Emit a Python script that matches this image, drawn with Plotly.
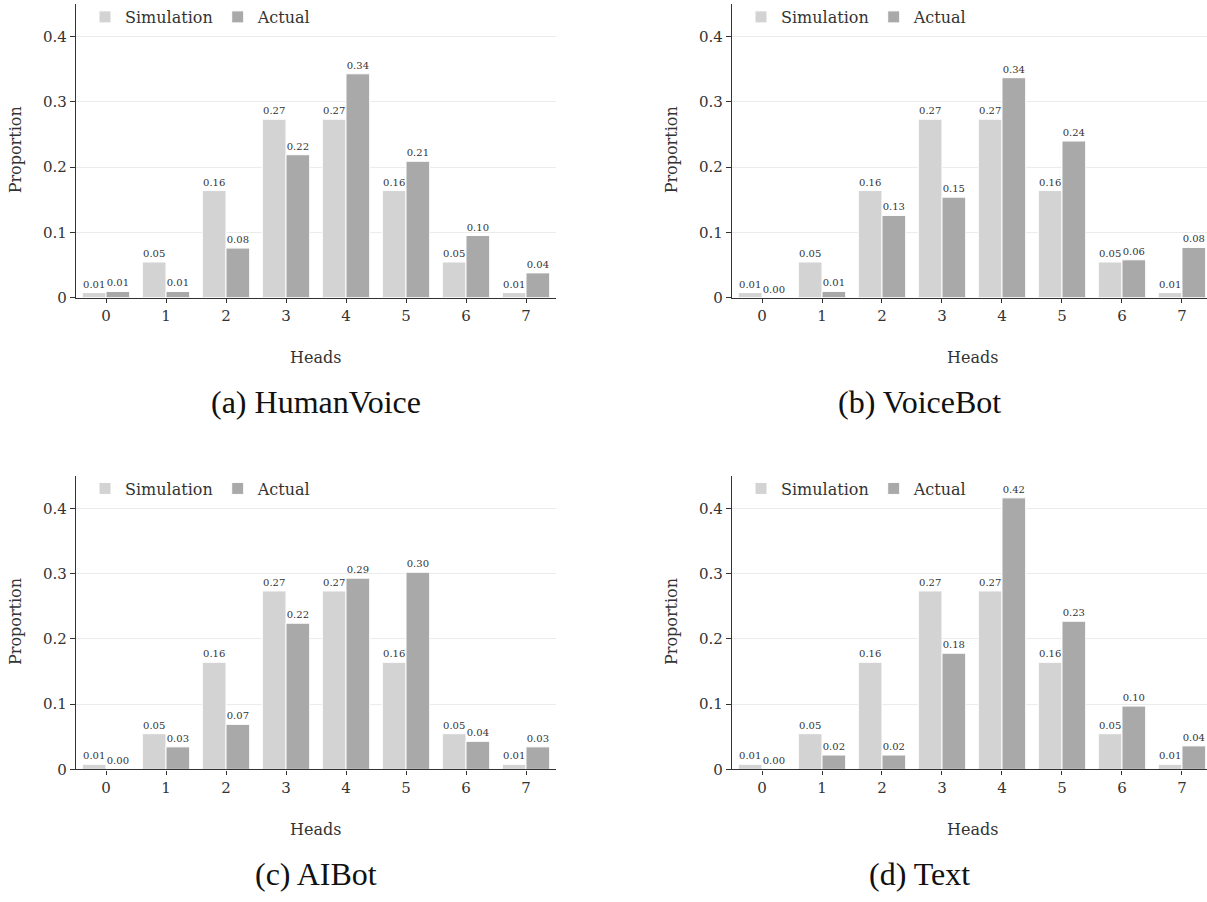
import plotly.graph_objects as go

heads = [0, 1, 2, 3, 4, 5, 6, 7]
simulation = [0.0078, 0.0547, 0.1641, 0.2734, 0.2734, 0.1641, 0.0547, 0.0078]
actual_humanvoice = [0.0095, 0.0095, 0.076, 0.219, 0.343, 0.209, 0.0952, 0.038]
actual_voicebot = [0.0, 0.0096, 0.126, 0.154, 0.337, 0.240, 0.058, 0.077]
actual_aibot = [0.0, 0.0345, 0.069, 0.224, 0.293, 0.302, 0.043, 0.0345]
actual_text = [0.0, 0.022, 0.022, 0.178, 0.416, 0.227, 0.097, 0.036]
captions = ["(a) HumanVoice", "(b) VoiceBot", "(c) AIBot", "(d) Text"]
yticks = [0, 0.1, 0.2, 0.3, 0.4]
yticktext = ["0", "0.1", "0.2", "0.3", "0.4"]

W, H = 1207, 902
FONT = "DejaVu Serif"
SIM_COLOR = "#d3d3d3"
ACT_COLOR = "#a9a9a9"
AXIS_COLOR = "#333333"

panels = [
    dict(actual=actual_humanvoice, x0=76, x1=556, xr=[-0.5, 7.5], y0=300, cap_x=316, cap_y=406),
    dict(actual=actual_voicebot, x0=732, x1=1207, xr=[-0.5, 7.417], y0=300, cap_x=919, cap_y=406),
    dict(actual=actual_aibot, x0=76, x1=556, xr=[-0.5, 7.5], y0=777, cap_x=316, cap_y=883),
    dict(actual=actual_text, x0=732, x1=1207, xr=[-0.5, 7.417], y0=777, cap_x=919, cap_y=883),
]

PX_PER_UNIT = 660.0
YMAX = 0.45

fig = go.Figure()
annotations = []
layout = dict(
    width=W, height=H,
    margin=dict(l=0, r=0, t=0, b=0),
    paper_bgcolor="white", plot_bgcolor="white",
    barmode="group", bargap=0.21, bargroupgap=0.0,
    font=dict(family=FONT, color=AXIS_COLOR),
)

for i, p in enumerate(panels):
    n = "" if i == 0 else str(i + 1)
    xa, ya = "x" + n, "y" + n
    lg = "legend" + n
    top_px = p["y0"] - YMAX * PX_PER_UNIT
    for name, vals, col in [("Simulation", simulation, SIM_COLOR), ("Actual", p["actual"], ACT_COLOR)]:
        fig.add_trace(go.Bar(
            x=heads, y=vals, name=name, xaxis=xa, yaxis=ya, legend=lg,
            offsetgroup=name,
            marker=dict(color=col, line=dict(color="white", width=1)),
            texttemplate="%{y:.2f}", textposition="outside",
            textfont=dict(family=FONT, size=10, color="#333333"),
            cliponaxis=False, constraintext="none",
        ))
    layout["xaxis" + n] = dict(
        domain=[p["x0"] / W, p["x1"] / W], anchor=ya, range=p["xr"],
        tickmode="array", tickvals=heads, ticktext=[str(h) for h in heads],
        ticks="outside", ticklen=4, tickcolor=AXIS_COLOR,
        showline=True, linecolor=AXIS_COLOR, linewidth=1.3,
        showgrid=False, zeroline=False,
        tickfont=dict(family=FONT, size=15, color=AXIS_COLOR),
        fixedrange=True,
    )
    layout["yaxis" + n] = dict(
        domain=[1 - p["y0"] / H, 1 - top_px / H], anchor=xa, range=[0, YMAX],
        tickmode="array", tickvals=yticks, ticktext=yticktext,
        ticks="outside", ticklen=5, tickcolor=AXIS_COLOR,
        showline=True, linecolor=AXIS_COLOR, linewidth=1.3,
        showgrid=True, gridcolor="#ebebeb", gridwidth=1, zeroline=False,
        tickfont=dict(family=FONT, size=15, color=AXIS_COLOR),
        fixedrange=True,
    )
    layout[lg] = dict(
        orientation="h", x=(p["x0"] + 9) / W, xanchor="left",
        y=1 - (top_px + 13) / H, yanchor="middle",
        bgcolor="rgba(0,0,0,0)", font=dict(family=FONT, size=16, color=AXIS_COLOR),
        itemwidth=30, tracegroupgap=0,
    )
    # axis titles
    annotations.append(dict(
        text="Heads", x=(p["x0"] + 30 + 60 * 3.5) / W, y=1 - (p["y0"] + 61) / H,
        xref="paper", yref="paper", showarrow=False, xanchor="center", yanchor="middle",
        font=dict(family=FONT, size=16, color=AXIS_COLOR),
    ))
    annotations.append(dict(
        text="Proportion", x=(p["x0"] - 61) / W, y=1 - (p["y0"] - 149) / H,
        xref="paper", yref="paper", showarrow=False, xanchor="center", yanchor="middle",
        textangle=-90, font=dict(family=FONT, size=16, color=AXIS_COLOR),
    ))
    annotations.append(dict(
        text=captions[i], x=p["cap_x"] / W, y=1 - p["cap_y"] / H,
        xref="paper", yref="paper", showarrow=False, xanchor="center", yanchor="middle",
        font=dict(family="Liberation Serif", size=32, color="#111111"),
    ))

layout["annotations"] = annotations
fig.update_layout(**layout)
fig.write_html("out.html")
